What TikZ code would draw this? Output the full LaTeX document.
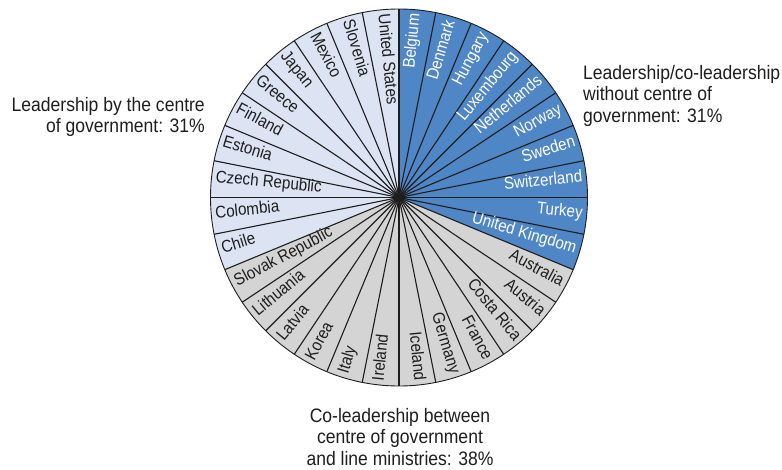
\documentclass[tikz,border=0pt]{standalone}
\usepackage{fontspec}
\usetikzlibrary{calc}
\setmainfont{Liberation Sans}
\newfontfamily\slicefont[FakeStretch=0.893]{Liberation Sans}
\newfontfamily\groupfont[FakeStretch=0.9]{Liberation Sans}
\definecolor{cgblue}{RGB}{79,134,198}
\definecolor{cglight}{RGB}{220,227,242}
\definecolor{cggrey}{RGB}{212,212,212}
\definecolor{cgline}{RGB}{30,30,30}
\begin{document}
\begin{tikzpicture}[x=1pt,y=1pt,
  slicelabel/.style={inner sep=0pt, font=\slicefont\fontsize{17}{18}\selectfont},
  grouplabel/.style={inner sep=0pt, font=\groupfont\fontsize{19.5}{21.5}\selectfont, text=cgline},
  divider/.style={draw=cgline, line width=1.1pt},
  rim/.style={draw=cgline, line width=0.9pt}]
\useasboundingbox (0,0) rectangle (782,-469);
\coordinate (C) at (399,-197.5);
\def\R{188.5}
% slice fills
\foreach \i in {0,...,31} {
  \pgfmathsetmacro\a{90-11.25*\i}
  \pgfmathsetmacro\b{\a-11.25}
  \ifnum\i<10 \def\fc{cgblue}\else\ifnum\i<22 \def\fc{cggrey}\else\def\fc{cglight}\fi\fi
  \fill[\fc] (C) -- ($(C)+(\a:\R)$) arc[start angle=\a, end angle=\b, radius=\R] -- cycle;
}
% dividers
\foreach \i in {0,...,31} {
  \pgfmathsetmacro\a{90-11.25*\i}
  \coordinate (e\i) at ($(C)+(\a:\R)$);
  \draw[divider] (C) -- (e\i);
}
\draw[rim] (C) circle (\R);
\fill[cgline] (C) circle (4.5);
% slice labels
\foreach \name [count=\j from 0] in {Belgium,Denmark,Hungary,Luxembourg,Netherlands,Norway,Sweden,Switzerland,Turkey,United Kingdom,Australia,Austria,Costa Rica,France,Germany,Iceland,Ireland,Italy,Korea,Latvia,Lithuania,Slovak Republic,Chile,Colombia,Czech Republic,Estonia,Finland,Greece,Japan,Mexico,Slovenia,United States} {
  \pgfmathsetmacro\m{84.375-11.25*\j}
  \ifnum\j<10 \def\tc{white}\else\def\tc{cgline}\fi
  \ifnum\j<16
    \node[slicelabel, text=\tc, anchor=mid east, rotate=\m] (s\j) at ($(C)+(\m:\R-4)$) {\name};
  \else
    \pgfmathsetmacro\r{\m+180}
    \node[slicelabel, text=\tc, anchor=mid west, rotate=\r] (s\j) at ($(C)+(\m:\R-4)$) {\name};
  \fi
}
% group labels
\node[grouplabel, anchor=north west, align=left] (gr) at (583,-65) {Leadership/co-leadership\\without centre of\\government: 31\%};
\node[grouplabel, anchor=north east, align=right] (gl) at (205,-97) {Leadership by the centre\\of government: 31\%};
\node[grouplabel, anchor=north, align=center] (gb) at (400,-408) {Co-leadership between\\centre of government\\and line ministries: 38\%};
\end{tikzpicture}
\end{document}
